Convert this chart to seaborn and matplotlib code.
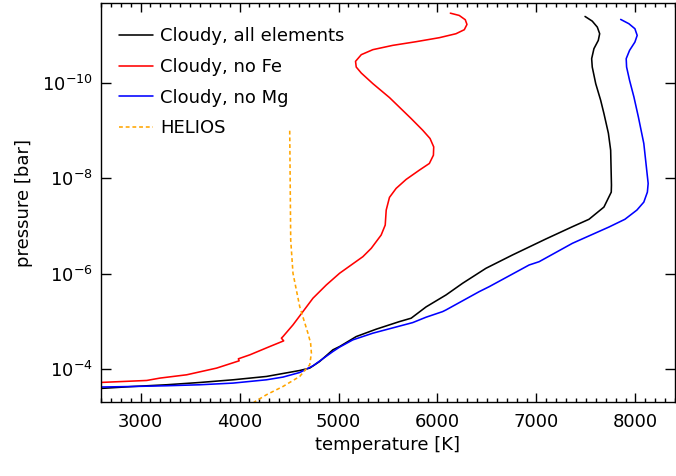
import numpy as np
import pandas as pd
import matplotlib
matplotlib.use("Agg")
import matplotlib.pyplot as plt
import seaborn as sns
from matplotlib.ticker import FixedLocator, MultipleLocator, NullLocator, LogFormatterSciNotation

# Temperature-pressure profiles, ordered from the top of the atmosphere downward.
# Temperatures in K, pressures given as log10(P / bar).
t_all = [7491, 7564, 7615, 7639, 7625, 7581, 7558, 7564, 7599, 7649, 7682, 7727,
         7750, 7758, 7756, 7682, 7531, 7363, 7094, 6758, 6490, 6254, 6087, 5885,
         5734, 5616, 5381, 5179, 5011, 4943, 4809, 4709, 4608, 4272, 3935, 3600,
         3264, 2927, 2592]
logp_all = [-11.395, -11.297, -11.172, -11.033, -10.893, -10.720, -10.510, -10.335,
            -9.987, -9.638, -9.360, -8.948, -8.592, -7.860, -7.713, -7.400, -7.144,
            -6.988, -6.730, -6.396, -6.117, -5.803, -5.559, -5.308, -5.071, -5.000,
            -4.841, -4.686, -4.477, -4.408, -4.163, -4.025, -3.975, -3.850, -3.780,
            -3.724, -3.676, -3.640, -3.598]

t_nofe = [6130, 6220, 6281, 6298, 6271, 6187, 6019, 5784, 5548, 5347, 5230, 5172,
          5179, 5230, 5347, 5515, 5734, 5851, 5925, 5962, 5959, 5918, 5817, 5683,
          5582, 5515, 5482, 5472, 5431, 5331, 5246, 5011, 4877, 4742, 4608, 4540,
          4439, 4423, 4446, 4305, 4104, 3988, 3996, 3768, 3466, 3197, 3062, 2592]
logp_nofe = [-11.464, -11.416, -11.326, -11.228, -11.117, -11.033, -10.950, -10.866,
             -10.789, -10.699, -10.594, -10.454, -10.335, -10.209, -9.987, -9.695,
             -9.255, -9.010, -8.837, -8.661, -8.487, -8.314, -8.174, -7.979, -7.791,
             -7.603, -7.337, -7.023, -6.814, -6.536, -6.360, -6.013, -5.768, -5.490,
             -5.119, -4.931, -4.686, -4.653, -4.596, -4.477, -4.303, -4.220, -4.178,
             -4.025, -3.885, -3.816, -3.766, -3.724]

t_nomg = [7851, 7934, 7995, 8018, 7995, 7941, 7907, 7911, 7941, 7985, 8030, 8085,
          8129, 8121, 8085, 8015, 7894, 7732, 7460, 7363, 7027, 6926, 6523, 6422,
          6087, 6052, 5885, 5750, 5347, 5145, 5011, 4943, 4742, 4608, 4439, 4272,
          3935, 3600, 3264, 2927, 2592]
logp_nomg = [-11.333, -11.243, -11.138, -10.998, -10.858, -10.684, -10.510, -10.335,
             -10.056, -9.707, -9.289, -8.732, -7.895, -7.713, -7.504, -7.337, -7.144,
             -6.981, -6.730, -6.640, -6.255, -6.186, -5.732, -5.628, -5.245, -5.209,
             -5.092, -4.979, -4.757, -4.617, -4.465, -4.372, -4.073, -3.933, -3.837,
             -3.780, -3.711, -3.676, -3.655, -3.640, -3.628]

t_helios = [4507, 4517, 4540, 4608, 4691, 4718, 4726, 4709, 4608, 4439, 4272, 4154, 4053]
logp_helios = [-9.000, -6.709, -6.013, -5.314, -4.757, -4.550, -4.339, -4.094,
               -3.850, -3.640, -3.467, -3.320, -3.150]

labels = ["Cloudy, all elements", "Cloudy, no Fe", "Cloudy, no Mg", "HELIOS"]
colors = ["black", "#FF0000", "#0000FF", "#FFA500"]

sns.set_style("ticks")
plt.rcParams["font.family"] = ["DejaVu Sans"]
plt.rcParams["mathtext.fontset"] = "dejavusans"
plt.rcParams["text.color"] = "black"
plt.rcParams["axes.labelcolor"] = "black"
plt.rcParams["xtick.color"] = "black"
plt.rcParams["ytick.color"] = "black"

fig = plt.figure(figsize=(6.76, 4.76), dpi=100)
ax = fig.add_axes([0.1494, 0.156, 0.8491, 0.837])

series = [(t_all, logp_all), (t_nofe, logp_nofe), (t_nomg, logp_nomg), (t_helios, logp_helios)]
for (t, lp), lab, col in zip(series, labels, colors):
    df = pd.DataFrame({"temperature": t, "pressure": 10.0 ** np.asarray(lp)})
    style = dict(linestyle=(0, (2.4, 1.8))) if lab == "HELIOS" else {}
    sns.lineplot(data=df, x="temperature", y="pressure", sort=False, estimator=None,
                 color=col, linewidth=1.15, label=lab, ax=ax, **style)

ax.set_yscale("log")
ax.set_xlim(2600, 8400)
ax.set_ylim(10 ** -3.32, 10 ** -11.67)

ax.xaxis.set_major_locator(MultipleLocator(1000))
ax.xaxis.set_minor_locator(MultipleLocator(100))
ax.yaxis.set_major_locator(FixedLocator([1e-10, 1e-8, 1e-6, 1e-4]))
ax.yaxis.set_major_formatter(LogFormatterSciNotation())
ax.yaxis.set_minor_locator(NullLocator())

ax.tick_params(which="both", direction="in", top=True, right=True, width=1.0,
               labelsize=13, colors="black")
ax.tick_params(axis="x", which="major", length=6.3, pad=8)
ax.tick_params(axis="x", which="minor", length=3.2)
ax.tick_params(axis="y", which="major", length=7.0, pad=6)
for s in ax.spines.values():
    s.set_linewidth(1.0)
    s.set_color("black")

ax.set_xlabel("temperature [K]", fontsize=13, labelpad=4, color="black")
ax.set_ylabel("pressure [bar]", fontsize=13, labelpad=6, color="black")

leg = ax.legend(loc="upper left", bbox_to_anchor=(0.0, 0.985), frameon=False,
                fontsize=13, handlelength=1.9, handletextpad=0.37,
                labelspacing=0.7, borderaxespad=0.6)
for txt in leg.get_texts():
    txt.set_color("black")

fig.savefig("out.png", dpi=100)
